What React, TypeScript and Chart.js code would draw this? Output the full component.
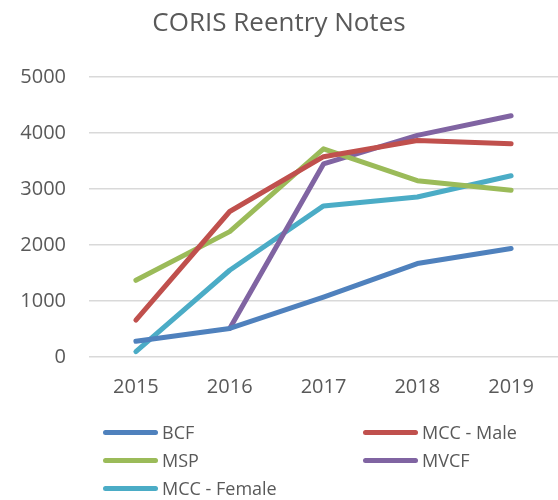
import React, { useEffect, useRef } from "react";
import { Chart, registerables } from "chart.js";

Chart.register(...registerables);

const years = ["2015", "2016", "2017", "2018", "2019"];
const bcf = [280, 510, 1070, 1670, 1940];
const mccMale = [660, 2600, 3580, 3870, 3810];
const msp = [1370, 2240, 3720, 3150, 2980];
const mvcf = [null, 510, 3450, 3960, 4310];
const mccFemale = [95, 1550, 2700, 2860, 3240];
const seriesNames = ["BCF", "MCC - Male", "MSP", "MVCF", "MCC - Female"];
const seriesColors = ["#4F81BD", "#C0504D", "#9BBB59", "#8064A2", "#4BACC6"];
const seriesValues = [bcf, mccMale, msp, mvcf, mccFemale];
const yTicks = [0, 1000, 2000, 3000, 4000, 5000];

const FONT = "'Open Sans', sans-serif";
const TEXT = "#595959";

export default function App() {
  const ref = useRef<HTMLCanvasElement | null>(null);

  useEffect(() => {
    if (!ref.current) return;
    const chart = new Chart(ref.current, {
      type: "line",
      data: {
        labels: years,
        datasets: seriesNames.map((name, i) => ({
          label: name,
          data: seriesValues[i] as any,
          borderColor: seriesColors[i],
          backgroundColor: seriesColors[i],
          borderWidth: 5,
          borderCapStyle: "round" as const,
          borderJoinStyle: "round" as const,
          pointRadius: 0,
          tension: 0,
          fill: false,
        })),
      },
      options: {
        animation: false,
        responsive: false,
        layout: { padding: { left: 0, right: 0, top: 0, bottom: 0 } },
        plugins: {
          legend: { display: false },
          tooltip: { enabled: false },
          title: {
            display: true,
            text: "CORIS Reentry Notes",
            color: TEXT,
            font: { family: FONT, size: 26, weight: "normal" },
            padding: { top: 8, bottom: 38 },
          },
        },
        scales: {
          x: {
            offset: true,
            grid: { display: false, drawTicks: false },
            border: { display: false },
            ticks: {
              color: TEXT,
              font: { family: FONT, size: 20 },
              padding: 18,
              maxRotation: 0,
            },
            afterFit: (s: any) => {
              s.height = 143;
            },
          },
          y: {
            min: 0,
            max: 5000,
            afterBuildTicks: (s: any) => {
              s.ticks = yTicks.map((v) => ({ value: v }));
            },
            grid: { color: "#D9D9D9", lineWidth: 1.5, drawTicks: false },
            border: { display: false },
            ticks: {
              color: TEXT,
              font: { family: FONT, size: 20 },
              padding: 23,
              callback: (v: any) => String(v),
            },
            afterFit: (s: any) => {
              s.width = 89;
            },
          },
        },
      },
    });
    return () => chart.destroy();
  }, []);

  const legendPos = [
    { x: 103, y: 432 },
    { x: 363, y: 432 },
    { x: 103, y: 460 },
    { x: 363, y: 460 },
    { x: 103, y: 488 },
  ];

  return (
    <div style={{ position: "absolute", left: 0, top: 0, width: 558, height: 500, background: "#fff" }}>
      <canvas ref={ref} width={558} height={500} style={{ display: "block" }} />
      {seriesNames.map((name, i) => (
        <div
          key={name}
          style={{
            position: "absolute",
            left: legendPos[i].x,
            top: legendPos[i].y - 14,
            height: 28,
            display: "flex",
            alignItems: "center",
            fontFamily: FONT,
            fontSize: 18,
            color: TEXT,
            whiteSpace: "nowrap",
          }}
        >
          <span
            style={{
              display: "inline-block",
              width: 55,
              height: 5,
              borderRadius: 3,
              background: seriesColors[i],
              marginRight: 4,
            }}
          />
          <span>{name}</span>
        </div>
      ))}
    </div>
  );
}
